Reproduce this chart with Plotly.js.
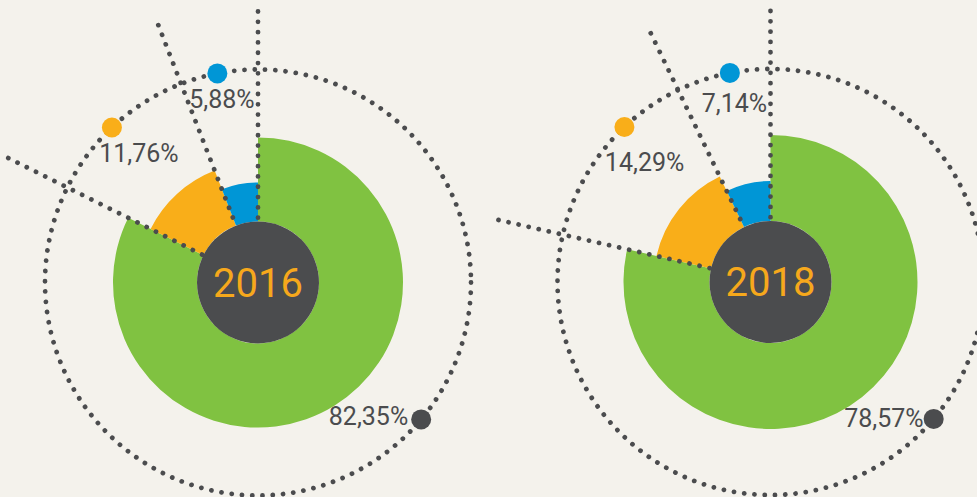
<!DOCTYPE html>
<html>
<head>
<meta charset="utf-8">
<script src="https://cdn.plot.ly/plotly-3.0.1.min.js"></script>
<style>
  html, body { margin: 0; padding: 0; background: #f4f2ec; }
  #chart { width: 977px; height: 497px; }
  #chart .shapelayer path { stroke-linecap: round; }
</style>
</head>
<body>
<div id="chart"></div>
<script>
// ---- data ----
const years = ['2016', '2018'];
const categories = ['Segment A', 'Segment B', 'Segment C'];
const values2016 = [82.35, 11.76, 5.88];
const values2018 = [78.57, 14.29, 7.14];

// ---- style ----
const sliceColors = ['#80c241', '#f9ae19', '#0096d6'];
const darkColor = '#4b4c4e';
const yearColor = '#f6a81c';
const fontFamily = 'Roboto, "Open Sans", sans-serif';
const holeR = 61;
const outerR = [[145, 120, 100], [147, 117, 101]];
const ringR = 213;
const spokeR = [271, 279, 276];
const dotTheta = [130, 360 - 43.3, 360 - 11];     // degrees clockwise from top
const dotColors = [darkColor, sliceColors[1], sliceColors[2]];
const labelR = [[175.6, 173.7, 184], [179.5, 171.9, 179.6]];
const labelTheta = [[141, 316.75, 348.7], [140.8, 312.9, 348.4]];
const centers = [[258, 282.5], [770.5, 282]];
const W = 977, H = 497, domR = 150;
const dotLine = {color: darkColor, width: 4.8, dash: '0.01px,10.3px'};

const allValues = [values2016, values2018];
const traces = [];
const shapes = [];
const layout = {
  width: W, height: H,
  margin: {l: 0, r: 0, t: 0, b: 0},
  paper_bgcolor: '#f4f2ec',
  plot_bgcolor: 'rgba(0,0,0,0)',
  showlegend: false,
  xaxis: {range: [0, W], visible: false, fixedrange: true},
  yaxis: {range: [H, 0], visible: false, fixedrange: true},
  shapes: shapes
};

const fmt = v => v.toFixed(2).replace('.', ',') + '%';
const rad = d => d * Math.PI / 180;

allValues.forEach((vals, k) => {
  const sub = k === 0 ? 'polar' : 'polar2';
  const [cx, cy] = centers[k];
  const cyb = H - cy;
  layout[sub] = {
    domain: {x: [(cx - domR) / W, (cx + domR) / W], y: [(cyb - domR) / H, (cyb + domR) / H]},
    bgcolor: 'rgba(0,0,0,0)',
    radialaxis: {visible: false, range: [0, domR]},
    angularaxis: {visible: false, direction: 'clockwise', rotation: 90}
  };
  const px = (r, t) => cx + r * Math.sin(rad(t));
  const py = (r, t) => cy - r * Math.cos(rad(t));

  // slice geometry from values
  const total = vals.reduce((a, b) => a + b, 0);
  const widths = vals.map(v => v / total * 360);
  const mids = [], ends = [];
  let acc = 0;
  widths.forEach(w => { mids.push(acc + w / 2); acc += w; ends.push(acc); });

  traces.push({
    type: 'barpolar', subplot: sub,
    theta: mids, width: widths,
    base: vals.map(() => holeR),
    r: outerR[k].map(r => r - holeR),
    name: years[k],
    text: categories,
    marker: {color: sliceColors, line: {width: 0}},
    hoverinfo: 'skip'
  });

  // centre disc
  traces.push({
    type: 'scatterpolar', subplot: sub, mode: 'markers',
    r: [0], theta: [0],
    marker: {size: holeR * 2, color: darkColor, line: {width: 0}},
    hoverinfo: 'skip'
  });
  // year label
  traces.push({
    type: 'scatterpolar', subplot: sub, mode: 'text',
    r: [4], theta: [180],
    text: [years[k]],
    textposition: 'middle center',
    textfont: {family: fontFamily, size: 40, color: yearColor},
    hoverinfo: 'skip'
  });

  // dotted ring
  shapes.push({
    type: 'circle', xref: 'x', yref: 'y', layer: 'below',
    x0: cx - ringR, x1: cx + ringR, y0: cy - ringR, y1: cy + ringR,
    line: dotLine
  });

  // dotted spokes on slice boundaries
  [0, ends[0], ends[1]].forEach((a, i) => {
    shapes.push({
      type: 'line', xref: 'x', yref: 'y', layer: 'above',
      x0: px(spokeR[i], a), y0: py(spokeR[i], a), x1: px(holeR, a), y1: py(holeR, a),
      line: dotLine
    });
  });

  // marker dots on ring
  traces.push({
    type: 'scatter', xaxis: 'x', yaxis: 'y', mode: 'markers',
    x: dotTheta.map(t => px(ringR, t)), y: dotTheta.map(t => py(ringR, t)),
    marker: {size: 20, color: dotColors, line: {width: 0}},
    hoverinfo: 'skip'
  });

  // percentage labels
  traces.push({
    type: 'scatter', xaxis: 'x', yaxis: 'y', mode: 'text',
    x: labelTheta[k].map((t, i) => px(labelR[k][i], t)),
    y: labelTheta[k].map((t, i) => py(labelR[k][i], t)),
    text: vals.map(fmt),
    textposition: 'middle center',
    textfont: {family: fontFamily, size: 25, color: darkColor},
    hoverinfo: 'skip'
  });
});

Plotly.newPlot('chart', traces, layout, {displayModeBar: false, staticPlot: true});
</script>
</body>
</html>
